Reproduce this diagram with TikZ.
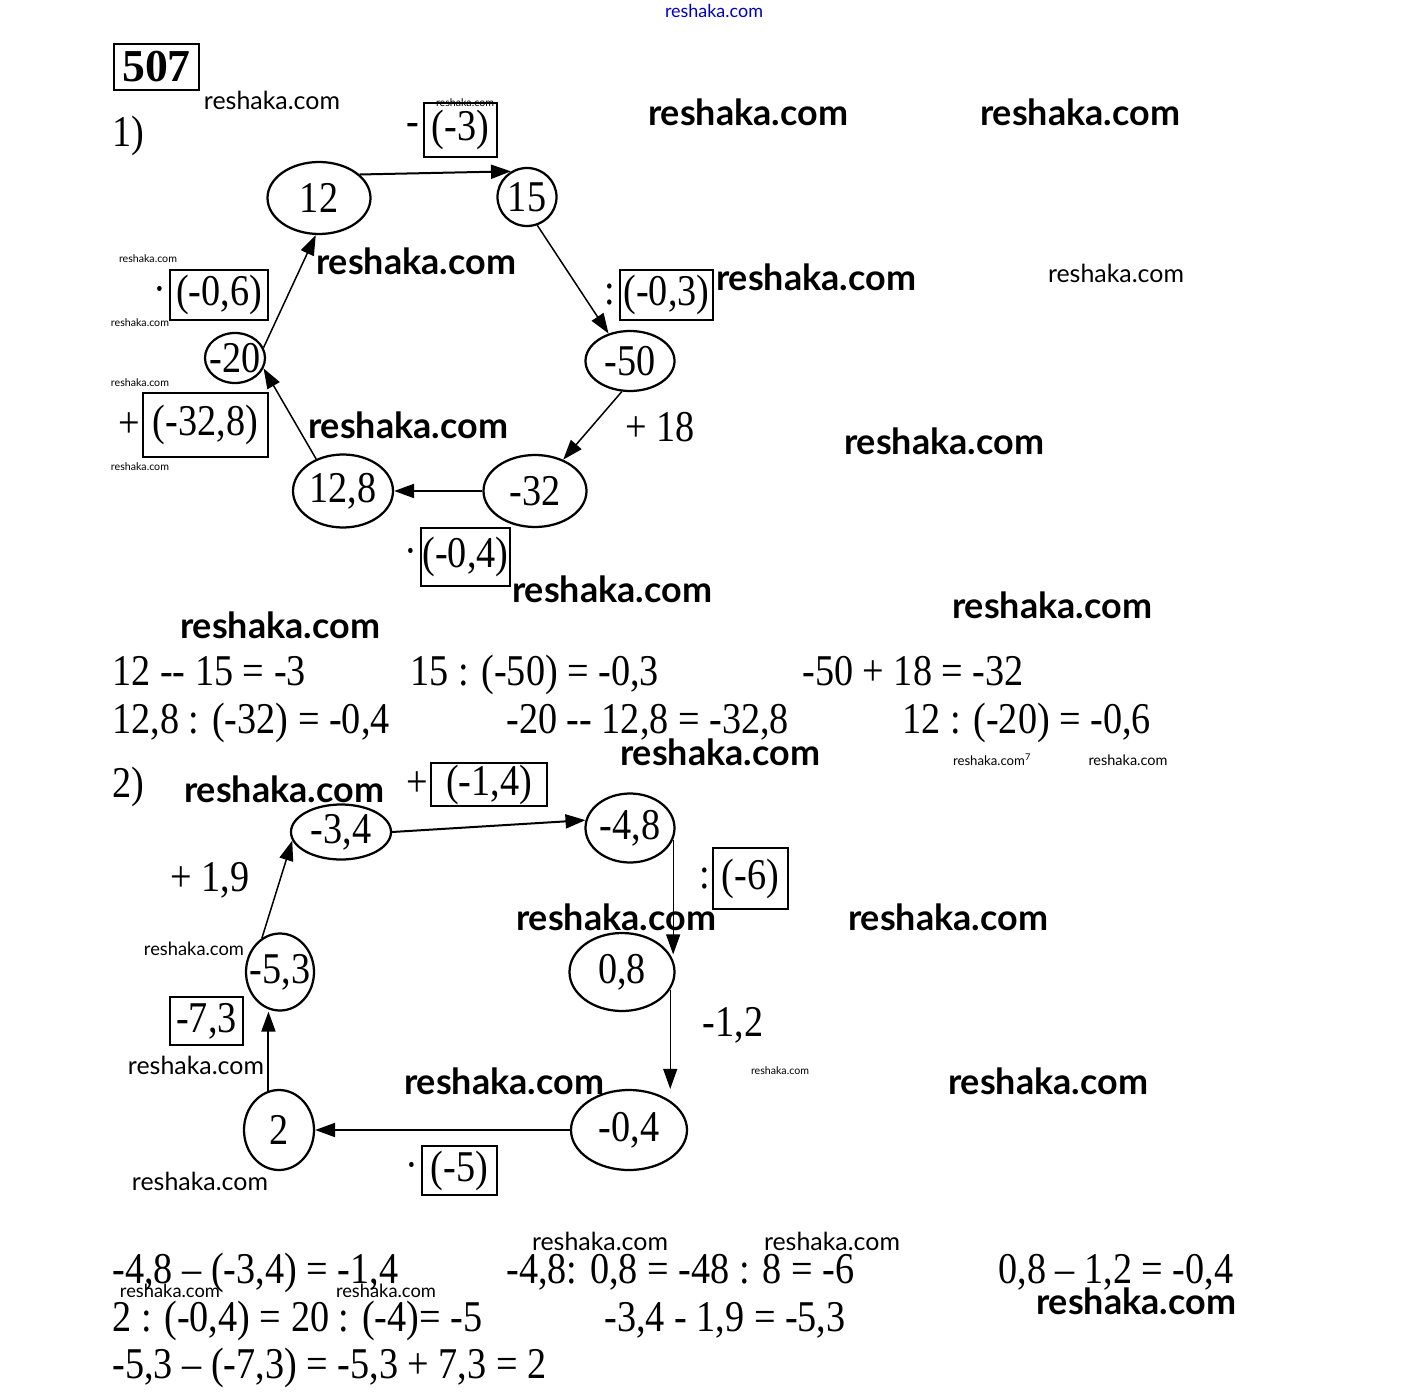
\documentclass[tikz,border=0pt]{standalone}
\usepackage{fontspec}
\setmainfont{Liberation Serif}
\newfontfamily\numfont{Liberation Serif}[FakeStretch=0.87]
\newfontfamily\wmfont{Lato}
\usetikzlibrary{shapes.geometric,arrows.meta,positioning}
\newlength\pxu
\setlength\pxu{0.2mm}
\begin{document}
\begin{tikzpicture}
  [x=0.2mm,y=-0.2mm,
   font=\numfont\fontsize{25}{30}\selectfont,
   oval/.style 2 args={ellipse,draw=black,line width=.45mm,minimum width=#1,minimum height=#2,inner sep=0pt},
   opbox/.style={rectangle,draw=black,line width=.5mm,inner sep=1pt},
   sign/.style={inner sep=0pt},
   arr/.style={-{Triangle[length=4mm,width=2.8mm]},line width=.4mm},
   eq/.style={anchor=base west,inner sep=0pt},
   wmbig/.style={font=\wmfont\bfseries,inner sep=0pt},
   wmsmall/.style={font=\wmfont,inner sep=0pt}
  ]
  \fill[white] (0,0) rectangle (1425,1395);

  % watermarks
  \node[wmsmall,text=blue!75!black] (wmtop) at (714,11) {\resizebox{98\pxu}{!}{reshaka.com}};
  \foreach \x/\y [count=\i] in {748/112,1080/112,416/261,816/277,408/425,944/441,612/589,280/625,
      1052/605,720/752,284/789,616/917,948/917,504/1081,1048/1081,1136/1301}
    \node[wmbig] (wmb\i) at (\x,\y) {\resizebox{200\pxu}{!}{reshaka.com}};
  \foreach \x/\y/\w [count=\i] in {272/100/136,1116/273/136,194/949/100,196/1065/136,200/1181/136,
      600/1241/136,832/1241/136,170/1291/100,386/1291/100,148/259/58,140/323/58,140/383/58,
      140/467/58,780/1071/58,465/103/58,1128/760/79}
    \node[wmsmall] (wms\i) at (\x,\y) {\resizebox{\w\pxu}{!}{reshaka.com}};
  \node[wmsmall] (wms7) at (992,760) {\resizebox{78\pxu}{!}{reshaka.com\textsuperscript{7}}};

  % title
  \node[draw,line width=.5mm,font=\bfseries\fontsize{26}{30}\selectfont,minimum width=17mm,minimum height=9.2mm] (num) at (156.5,67) {507};

  % part 1
  \node (p1) at (128,136) {1)};
  \node[oval={20.6mm}{14.4mm},label=center:{12}] (n12) at (319,198) {};
  \node[oval={11.8mm}{11.6mm},label=center:{15}] (n15) at (527,197) {};
  \node[oval={17.8mm}{12mm},label=center:{-50}] (nm50) at (630,361) {};
  \node[oval={20.6mm}{14.4mm},label=center:{-32}] (nm32) at (535,491) {};
  \node[oval={20mm}{14.6mm},label=center:{12,8}] (n128) at (343,491) {};
  \node[oval={12mm}{10mm},label=center:{-20}] (nm20) at (235,358) {};

  \draw[arr] (n12.30) -- (n15.122);
  \draw[arr,line width=.3mm] (n15.-70) -- (nm50.128);
  \draw[arr,line width=.3mm] (nm50.-105) -- (nm32.48);
  \draw[arr] (nm32.west) -- (n128.east);
  \draw[arr,line width=.3mm] (n128.130) -- (nm20.-20);
  \draw[arr,line width=.3mm] (nm20.20) -- (n12.-95);

  \node[opbox,minimum width=14.6mm,minimum height=10.8mm] (b3) at (460.5,130) {(-3)};
  \node[sign,left=2pt of b3] (s3) {-};
  \node[opbox,minimum width=18.6mm,minimum height=10mm] (b03) at (666.5,295) {(-0,3)};
  \node[sign,left=2pt of b03] (s03) {:};
  \node (l18) at (660,427) {+ 18};
  \node[opbox,minimum width=17.4mm,minimum height=11.6mm] (b04) at (465.5,557) {(-0,4)};
  \node[sign,left=1pt of b04] (s04) {·};
  \node[opbox,minimum width=25mm,minimum height=12.8mm] (b328) at (205.5,425) {(-32,8)};
  \node[sign,left=1pt of b328] (s328) {+};
  \node[opbox,minimum width=19.6mm,minimum height=10mm] (b06) at (219,295) {(-0,6)};
  \node[sign,left=1pt of b06] (s06) {·};

  \node[eq] (e1) at (112,685) {12 -{}- 15 = -3};
  \node[eq] (e2) at (410,685) {15 : (-50) = -0,3};
  \node[eq] (e3) at (802,685) {-50 + 18 = -32};
  \node[eq] (e4) at (112,733) {12,8 : (-32) = -0,4};
  \node[eq] (e5) at (506,733) {-20 -{}- 12,8 = -32,8};
  \node[eq] (e6) at (902,733) {12 : (-20) = -0,6};

  % part 2
  \node (p2) at (128,787) {2)};
  \node[oval={20mm}{11mm},label=center:{-3,4}] (nm34) at (341,832) {};
  \node[oval={17.8mm}{13.8mm},label=center:{-4,8}] (nm48) at (630,828) {};
  \node[oval={21mm}{15.6mm},label=center:{0,8}] (n08) at (622,972) {};
  \node[oval={23.2mm}{16mm},label=center:{-0,4}] (nm04) at (629,1130) {};
  \node[oval={14mm}{16mm},label=center:{2}] (n2) at (279,1130) {};
  \node[oval={13.6mm}{15.4mm},label=center:{-5,3}] (nm53) at (280,972) {};

  \draw[arr] (nm34.east) -- (nm48.170);
  \draw[arr,line width=.25mm] (nm48.-15) -- (nm48.-15 |- n08.20);
  \draw[arr,line width=.25mm] (n08.-20) -- (n08.-20 |- nm04.north);
  \draw[arr] (nm04.west) -- (n2.east);
  \draw[arr] (n2.105) -- (n2.105 |- nm53.south);
  \draw[arr,line width=.3mm] (nm53.118) -- (nm34.190);

  \node[opbox,minimum width=23.2mm,minimum height=8.2mm] (b14) at (489,784.5) {(-1,4)};
  \node[sign,left=1pt of b14] (s14) {+};
  \node[opbox,minimum width=15mm,minimum height=12.2mm] (b6) at (750.5,878.5) {(-6)};
  \node[sign,left=1pt of b6] (s6) {:};
  \node (l12) at (733,1025) {-1,2};
  \node[opbox,minimum width=15mm,minimum height=9.8mm] (b5) at (459.5,1170.5) {(-5)};
  \node[sign,left=1pt of b5] (s5) {·};
  \node[opbox,minimum width=14.6mm,minimum height=9.6mm] (b73) at (206.5,1021) {-7,3};
  \node (l19) at (210,880) {+ 1,9};

  \node[eq] (f1) at (112,1283) {-4,8 – (-3,4) = -1,4};
  \node[eq] (f2) at (506,1283) {-4,8: 0,8 = -48 : 8 = -6};
  \node[eq] (f3) at (998,1283) {0,8 – 1,2 = -0,4};
  \node[eq] (f4) at (112,1331) {2 : (-0,4) = 20 : (-4)= -5};
  \node[eq] (f5) at (604,1331) {-3,4 - 1,9 = -5,3};
  \node[eq] (f6) at (112,1378) {-5,3 – (-7,3) = -5,3 + 7,3 = 2};
\end{tikzpicture}
\end{document}
